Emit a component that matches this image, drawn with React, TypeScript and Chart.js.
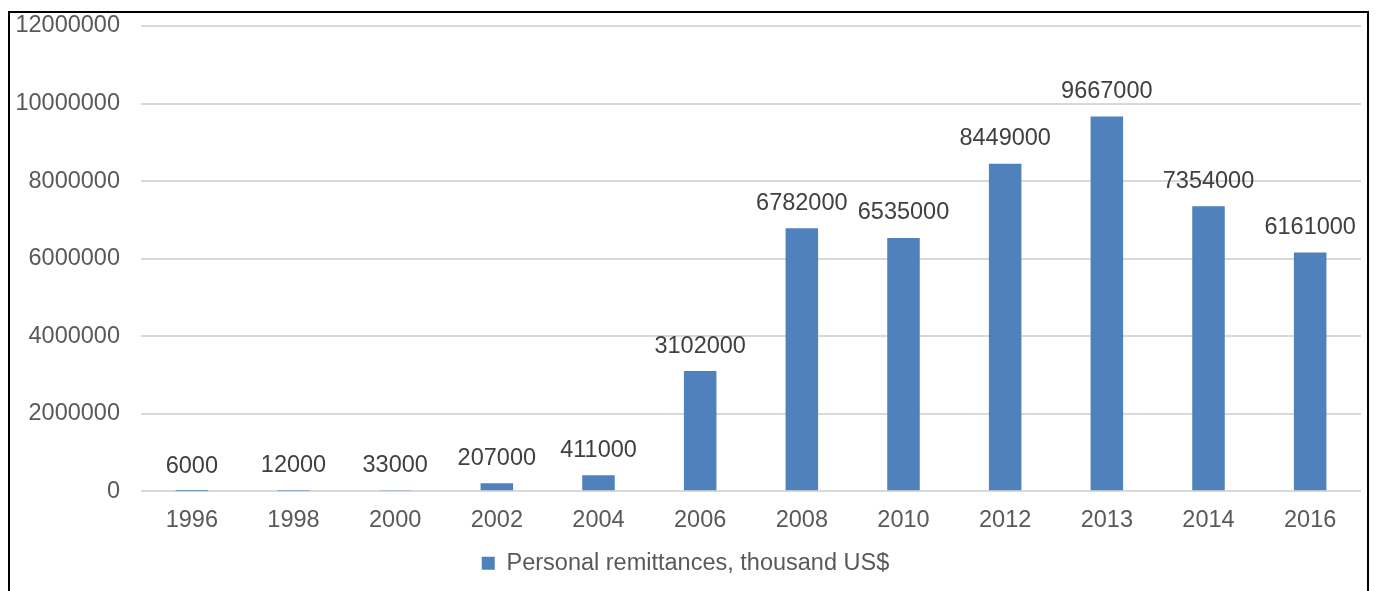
import React, { useEffect, useRef } from "react";
import { Chart, registerables } from "chart.js";

Chart.register(...registerables);

const categories = ["1996", "1998", "2000", "2002", "2004", "2006", "2008", "2010", "2012", "2013", "2014", "2016"];
const remittances = [6000, 12000, 33000, 207000, 411000, 3102000, 6782000, 6535000, 8449000, 9667000, 7354000, 6161000];
const seriesLabel = "Personal remittances, thousand US$";
const yTicks = [0, 2000000, 4000000, 6000000, 8000000, 10000000, 12000000];

const FONT = "'Liberation Sans', Arial, sans-serif";
const TEXT = "#595959";
const FS = 23.5;

const framePlugin = {
  id: "frame",
  afterLayout(chart: any) {
    // shift legend to centre it on the framed chart
    if (chart.legend) {
      chart.legend.left += 5;
      chart.legend.right += 5;
    }
  },
  afterDraw(chart: any) {
    const ctx = chart.ctx;
    ctx.save();
    ctx.strokeStyle = "#000";
    ctx.lineWidth = 2;
    ctx.beginPath();
    ctx.moveTo(9, 600);
    ctx.lineTo(9, 12);
    ctx.lineTo(1368, 12);
    ctx.lineTo(1368, 600);
    ctx.stroke();
    ctx.restore();
  },
};

const labelPlugin = {
  id: "valueLabels",
  afterDatasetsDraw(chart: any) {
    const ctx = chart.ctx;
    const meta = chart.getDatasetMeta(0);
    const data = chart.data.datasets[0].data;
    ctx.save();
    ctx.font = `${FS}px ${FONT}`;
    ctx.fillStyle = "#404040";
    ctx.textAlign = "center";
    ctx.textBaseline = "middle";
    meta.data.forEach((bar: any, i: number) => {
      ctx.fillText(String(data[i]), bar.x, bar.y - 25);
    });
    ctx.restore();
  },
};

export default function App() {
  const ref = useRef<HTMLCanvasElement>(null);
  useEffect(() => {
    document.body.style.margin = "0";
    const chart = new Chart(ref.current!, {
      type: "bar",
      data: {
        labels: categories,
        datasets: [
          {
            label: seriesLabel,
            data: remittances,
            backgroundColor: "#4F81BD",
            borderWidth: 0,
            categoryPercentage: 1,
            barPercentage: 0.32,
          },
        ],
      },
      options: {
        responsive: false,
        animation: false,
        layout: { padding: { left: 0, right: 14, top: 0, bottom: 6 } },
        plugins: {
          tooltip: { enabled: false },
          legend: {
            position: "bottom",
            labels: {
              font: { family: FONT, size: FS },
              color: TEXT,
              boxWidth: 13,
              boxHeight: 13,
              padding: 10,
            },
          },
        },
        scales: {
          x: {
            grid: { display: false },
            border: { display: false },
            ticks: {
              font: { family: FONT, size: FS },
              color: TEXT,
              padding: 7,
              maxRotation: 0,
              autoSkip: false,
            },
          },
          y: {
            min: 0,
            max: 12000000,
            afterFit(scale: any) {
              scale.width = 141;
              scale.paddingTop = 26;
              scale.paddingBottom = 0;
            },
            afterBuildTicks(scale: any) {
              scale.ticks = yTicks.map((v) => ({ value: v }));
            },
            grid: { color: "#D9D9D9", lineWidth: 2, drawTicks: false },
            border: { display: false },
            ticks: {
              font: { family: FONT, size: FS },
              color: TEXT,
              padding: 21,
              callback: (v: any) => String(v),
            },
          },
        },
      },
      plugins: [labelPlugin, framePlugin],
    });
    return () => chart.destroy();
  }, []);
  return (
    <canvas
      ref={ref}
      width={1375}
      height={591}
      style={{ position: "fixed", left: 0, top: 0, width: 1375, height: 591 }}
    />
  );
}
